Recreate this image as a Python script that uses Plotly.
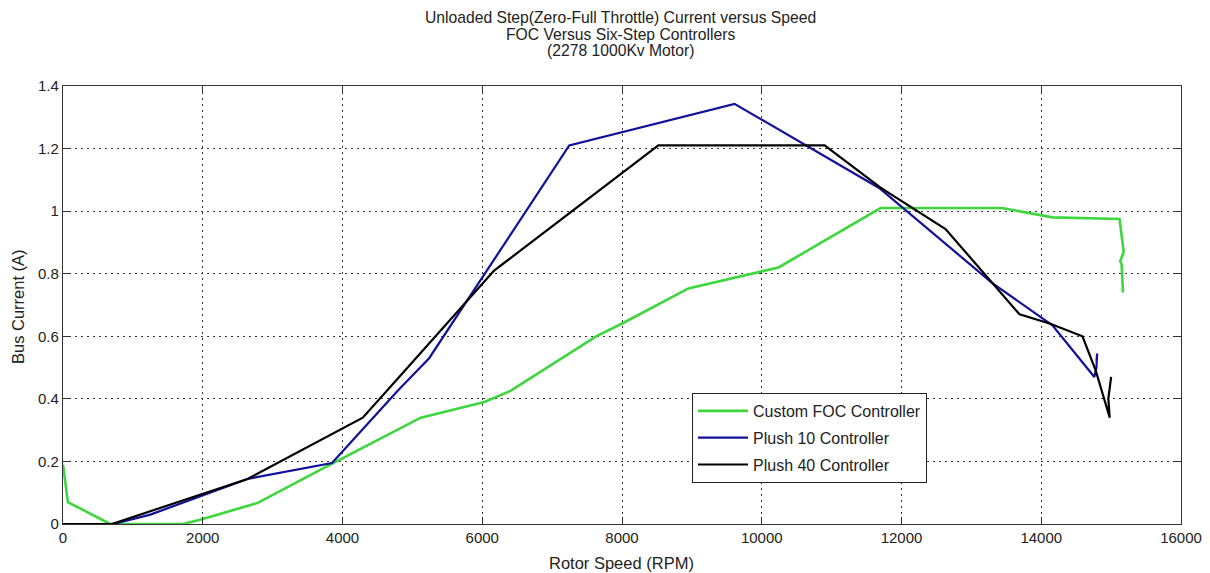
import plotly.graph_objects as go

# Custom FOC Controller (green)
foc_rpm = [0, 70, 675, 1720, 2000, 2780, 3790, 5120, 6030, 6410, 7630, 8030, 8950, 9860, 10240,
           11700, 13440, 14160, 15120, 15140, 15180, 15130, 15150, 15170]
foc_amp = [0.19, 0.07, 0.0, 0.0, 0.016, 0.067, 0.186, 0.34, 0.39, 0.426, 0.60, 0.644, 0.753, 0.80, 0.82,
           1.01, 1.01, 0.98, 0.975, 0.94, 0.87, 0.84, 0.83, 0.74]

# Plush 10 Controller (blue)
p10_rpm = [720, 1250, 2640, 3850, 4790, 5240, 7245, 9610, 11680, 13300, 14160, 14760, 14790, 14800, 14790]
p10_amp = [0.0, 0.03, 0.144, 0.195, 0.426, 0.53, 1.21, 1.343, 1.074, 0.77, 0.635, 0.47, 0.50, 0.545, 0.52]

# Plush 40 Controller (black)
p40_rpm = [0, 700, 2640, 4290, 4760, 6170, 8520, 10900, 11700, 12630, 13690, 14130, 14590, 14780,
           14980, 14960, 15000]
p40_amp = [0.0, 0.0, 0.144, 0.34, 0.457, 0.81, 1.21, 1.21, 1.075, 0.943, 0.67, 0.64, 0.60, 0.49,
           0.34, 0.40, 0.47]

x_ticks = [0, 2000, 4000, 6000, 8000, 10000, 12000, 14000, 16000]
x_tick_text = ["0", "2000", "4000", "6000", "8000", "10000", "12000", "14000", "16000"]
y_ticks = [0, 0.2, 0.4, 0.6, 0.8, 1.0, 1.2, 1.4]
y_tick_text = ["0", "0.2", "0.4", "0.6", "0.8", "1", "1.2", "1.4"]

title_lines = ["Unloaded Step(Zero-Full Throttle) Current versus Speed",
               "FOC Versus Six-Step Controllers",
               "(2278 1000Kv Motor)"]

FONT = "Liberation Sans, Arial, sans-serif"
TXT = "#222222"

fig = go.Figure()
fig.add_trace(go.Scatter(x=foc_rpm, y=foc_amp, mode="lines", name="Custom FOC Controller",
                         legendgroup="a", line=dict(color="#3dd63d", width=2.6)))
fig.add_trace(go.Scatter(x=p10_rpm, y=p10_amp, mode="lines", name="Plush 10 Controller",
                         legendgroup="b", line=dict(color="#10109a", width=2.2)))
fig.add_trace(go.Scatter(x=p40_rpm, y=p40_amp, mode="lines", name="Plush 40 Controller",
                         legendgroup="c", line=dict(color="#000000", width=2.2)))

axis_common = dict(
    showline=True, linecolor="#333333", linewidth=1.3, mirror="allticks",
    ticks="inside", ticklen=7, tickcolor="#333333", tickwidth=1.3,
    showgrid=True, gridcolor="#333333", gridwidth=1, griddash="1.5px,4.5px",
    zeroline=False, automargin=False,
    tickfont=dict(family=FONT, size=15, color=TXT),
)

M_L, M_R, M_T, M_B = 55, 37, 78, 57
PH = 573 - M_T - M_B
PW = 1210 - M_L - M_R


def py(fig_y):
    return (573 - M_B - fig_y) / PH


def px(fig_x):
    return (fig_x - M_L) / PW


annotations = []
for line, fy in zip(title_lines, [10, 27, 43]):
    annotations.append(dict(text=line, x=px(612), y=py(fy), xref="paper", yref="paper",
                            xanchor="center", yanchor="middle", showarrow=False,
                            font=dict(family=FONT, size=15.7, color=TXT)))
annotations.append(dict(text="Rotor Speed (RPM)", x=px(613), y=py(555), xref="paper", yref="paper",
                        xanchor="center", yanchor="middle", showarrow=False,
                        font=dict(family=FONT, size=16.5, color=TXT)))
annotations.append(dict(text="Bus Current (A)", x=px(10), y=py(299), xref="paper", yref="paper",
                        xanchor="center", yanchor="middle", showarrow=False, textangle=-90,
                        font=dict(family=FONT, size=16.5, color=TXT)))

fig.update_layout(
    width=1210, height=573,
    paper_bgcolor="white", plot_bgcolor="white",
    margin=dict(l=M_L, r=M_R, t=M_T, b=M_B, autoexpand=False),
    font=dict(family=FONT, color=TXT),
    xaxis=dict(range=[0, 16000], tickvals=x_ticks, ticktext=x_tick_text, **axis_common),
    yaxis=dict(range=[0, 1.4], tickvals=y_ticks, ticktext=y_tick_text, **axis_common),
    legend=dict(x=px(684), y=py(385), xanchor="left", yanchor="top",
                bgcolor="white", bordercolor="#222222", borderwidth=1,
                font=dict(family=FONT, size=16, color=TXT),
                tracegroupgap=3, itemwidth=50),
    annotations=annotations,
    showlegend=True,
)

fig.write_html("out.html")
